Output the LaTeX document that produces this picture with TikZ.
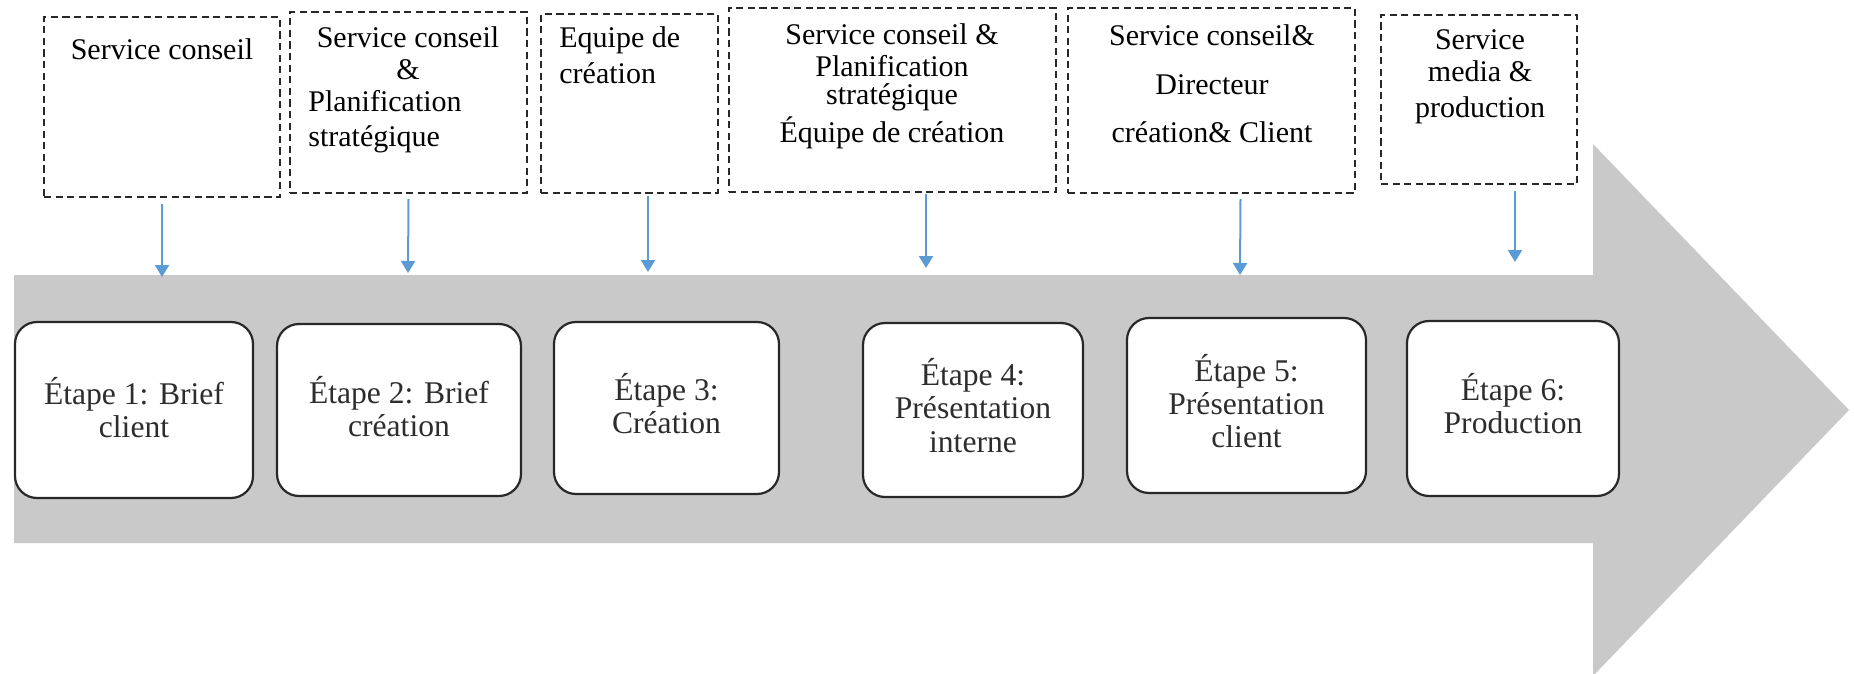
\documentclass[tikz,border=0pt]{standalone}
\usepackage{fontspec}
\setmainfont{Liberation Serif}
\usetikzlibrary{calc,fit,arrows.meta}
\definecolor{bandgray}{RGB}{201,201,201}
\definecolor{arrowblue}{RGB}{91,155,213}
\definecolor{boxline}{RGB}{40,40,40}
\definecolor{steptxt}{RGB}{45,45,45}
\tikzset{
  topbox/.style={draw=boxline, line width=1pt, dash pattern=on 3.6pt off 2.2pt, inner sep=0pt},
  stepbox/.style={draw=boxline, line width=1.1pt, fill=white, rounded corners=11pt, inner sep=0pt},
  steptext/.style={inner sep=0pt, anchor=base, text=steptxt, font=\fontsize{15.8pt}{17pt}\selectfont},
  toptext/.style={inner sep=0pt, font=\fontsize{15pt}{17pt}\selectfont},
  conn/.style={draw=arrowblue, line width=1pt, -{Triangle[length=6pt,width=7pt]}}
}
\begin{document}
\begin{tikzpicture}[x=0.5pt,y=-0.5pt]
\useasboundingbox (0,0) rectangle (1854,674);
% big grey arrow
\fill[bandgray] (14,275) -- (1593,275) -- (1593,144) -- (1849,410) -- (1593,676) -- (1593,543) -- (14,543) -- cycle;

% top dashed boxes
\node[topbox, fit={(44,17)(280,197)}] (b1) {};
\node[topbox, fit={(290,12)(527,193)}] (b2) {};
\node[topbox, fit={(541,14)(718,193)}] (b3) {};
\node[topbox, fit={(729,8)(1056,192)}] (b4) {};
\node[topbox, fit={(1068,8)(1355,193)}] (b5) {};
\node[topbox, fit={(1381,15)(1577,184)}] (b6) {};

% texts of top boxes
\node[toptext, anchor=base] (t1) at (162,60) {Service conseil};

\node[toptext, anchor=base] (t2a) at (408,48) {Service conseil};
\node[toptext, anchor=base] (t2b) at (408,80) {\&};
\node[toptext, anchor=base west] (t2c) at (308,112) {Planification};
\node[toptext, anchor=base west] (t2d) at (308,147) {stratégique};

\node[toptext, anchor=base west] (t3a) at (559,48) {Equipe de};
\node[toptext, anchor=base west] (t3b) at (559,84) {création};

\node[toptext, anchor=base] (t4a) at (892,45) {Service conseil \&};
\node[toptext, anchor=base] (t4b) at (892,77) {Planification};
\node[toptext, anchor=base] (t4c) at (892,105) {stratégique};
\node[toptext, anchor=base] (t4d) at (892,142) {Équipe de création};

\node[toptext, anchor=base] (t5a) at (1212,46) {Service conseil\&};
\node[toptext, anchor=base] (t5b) at (1212,95) {Directeur};
\node[toptext, anchor=base] (t5c) at (1212,143) {création\& Client};

\node[toptext, anchor=base] (t6a) at (1480,50) {Service};
\node[toptext, anchor=base] (t6b) at (1480,82) {media \&};
\node[toptext, anchor=base] (t6c) at (1480,118) {production};

% step boxes
\node[stepbox, fit={(15,322)(253,498)}] (s1) {};
\node[stepbox, fit={(277,324)(521,496)}] (s2) {};
\node[stepbox, fit={(554,322)(779,494)}] (s3) {};
\node[stepbox, fit={(863,323)(1083,497)}] (s4) {};
\node[stepbox, fit={(1127,318)(1366,493)}] (s5) {};
\node[stepbox, fit={(1407,321)(1619,496)}] (s6) {};

% step texts
\node[steptext] (l1a) at ($(s1.center)+(0,-6)$) {Étape 1: Brief};
\node[steptext] (l1b) at ($(s1.center)+(0,27)$) {client};
\node[steptext] (l2a) at ($(s2.center)+(0,-7)$) {Étape 2: Brief};
\node[steptext] (l2b) at ($(s2.center)+(0,26)$) {création};
\node[steptext] (l3a) at ($(s3.center)+(0,-8)$) {Étape 3:};
\node[steptext] (l3b) at ($(s3.center)+(0,25)$) {Création};
\node[steptext] (l4a) at ($(s4.center)+(0,-25)$) {Étape 4:};
\node[steptext] (l4b) at ($(s4.center)+(0,8)$) {Présentation};
\node[steptext] (l4c) at ($(s4.center)+(0,42)$) {interne};
\node[steptext] (l5a) at ($(s5.center)+(0,-24)$) {Étape 5:};
\node[steptext] (l5b) at ($(s5.center)+(0,9)$) {Présentation};
\node[steptext] (l5c) at ($(s5.center)+(0,42)$) {client};
\node[steptext] (l6a) at ($(s6.center)+(0,-8)$) {Étape 6:};
\node[steptext] (l6b) at ($(s6.center)+(0,25)$) {Production};

% arrow end points on the band
\coordinate (e1) at (162,277);
\coordinate (e2) at (408,273);
\coordinate (e3) at (648,272);
\coordinate (e4) at (926,268);
\coordinate (e5) at (1240,275);
\coordinate (e6) at (1515,262);

\draw[conn] ($(b1.south)+(0,6)$) -- (e1);
\draw[conn] ($(b2.south)+(0,5)$) -- (e2);
\draw[conn] ($(b3.south)+(18.5,2)$) -- (e3);
\draw[conn] ($(b4.south)+(33.5,1)$) -- (e4);
\draw[conn] ($(b5.south)+(29,5)$) -- (e5);
\draw[conn] ($(b6.south)+(36,6)$) -- (e6);
\end{tikzpicture}
\end{document}
